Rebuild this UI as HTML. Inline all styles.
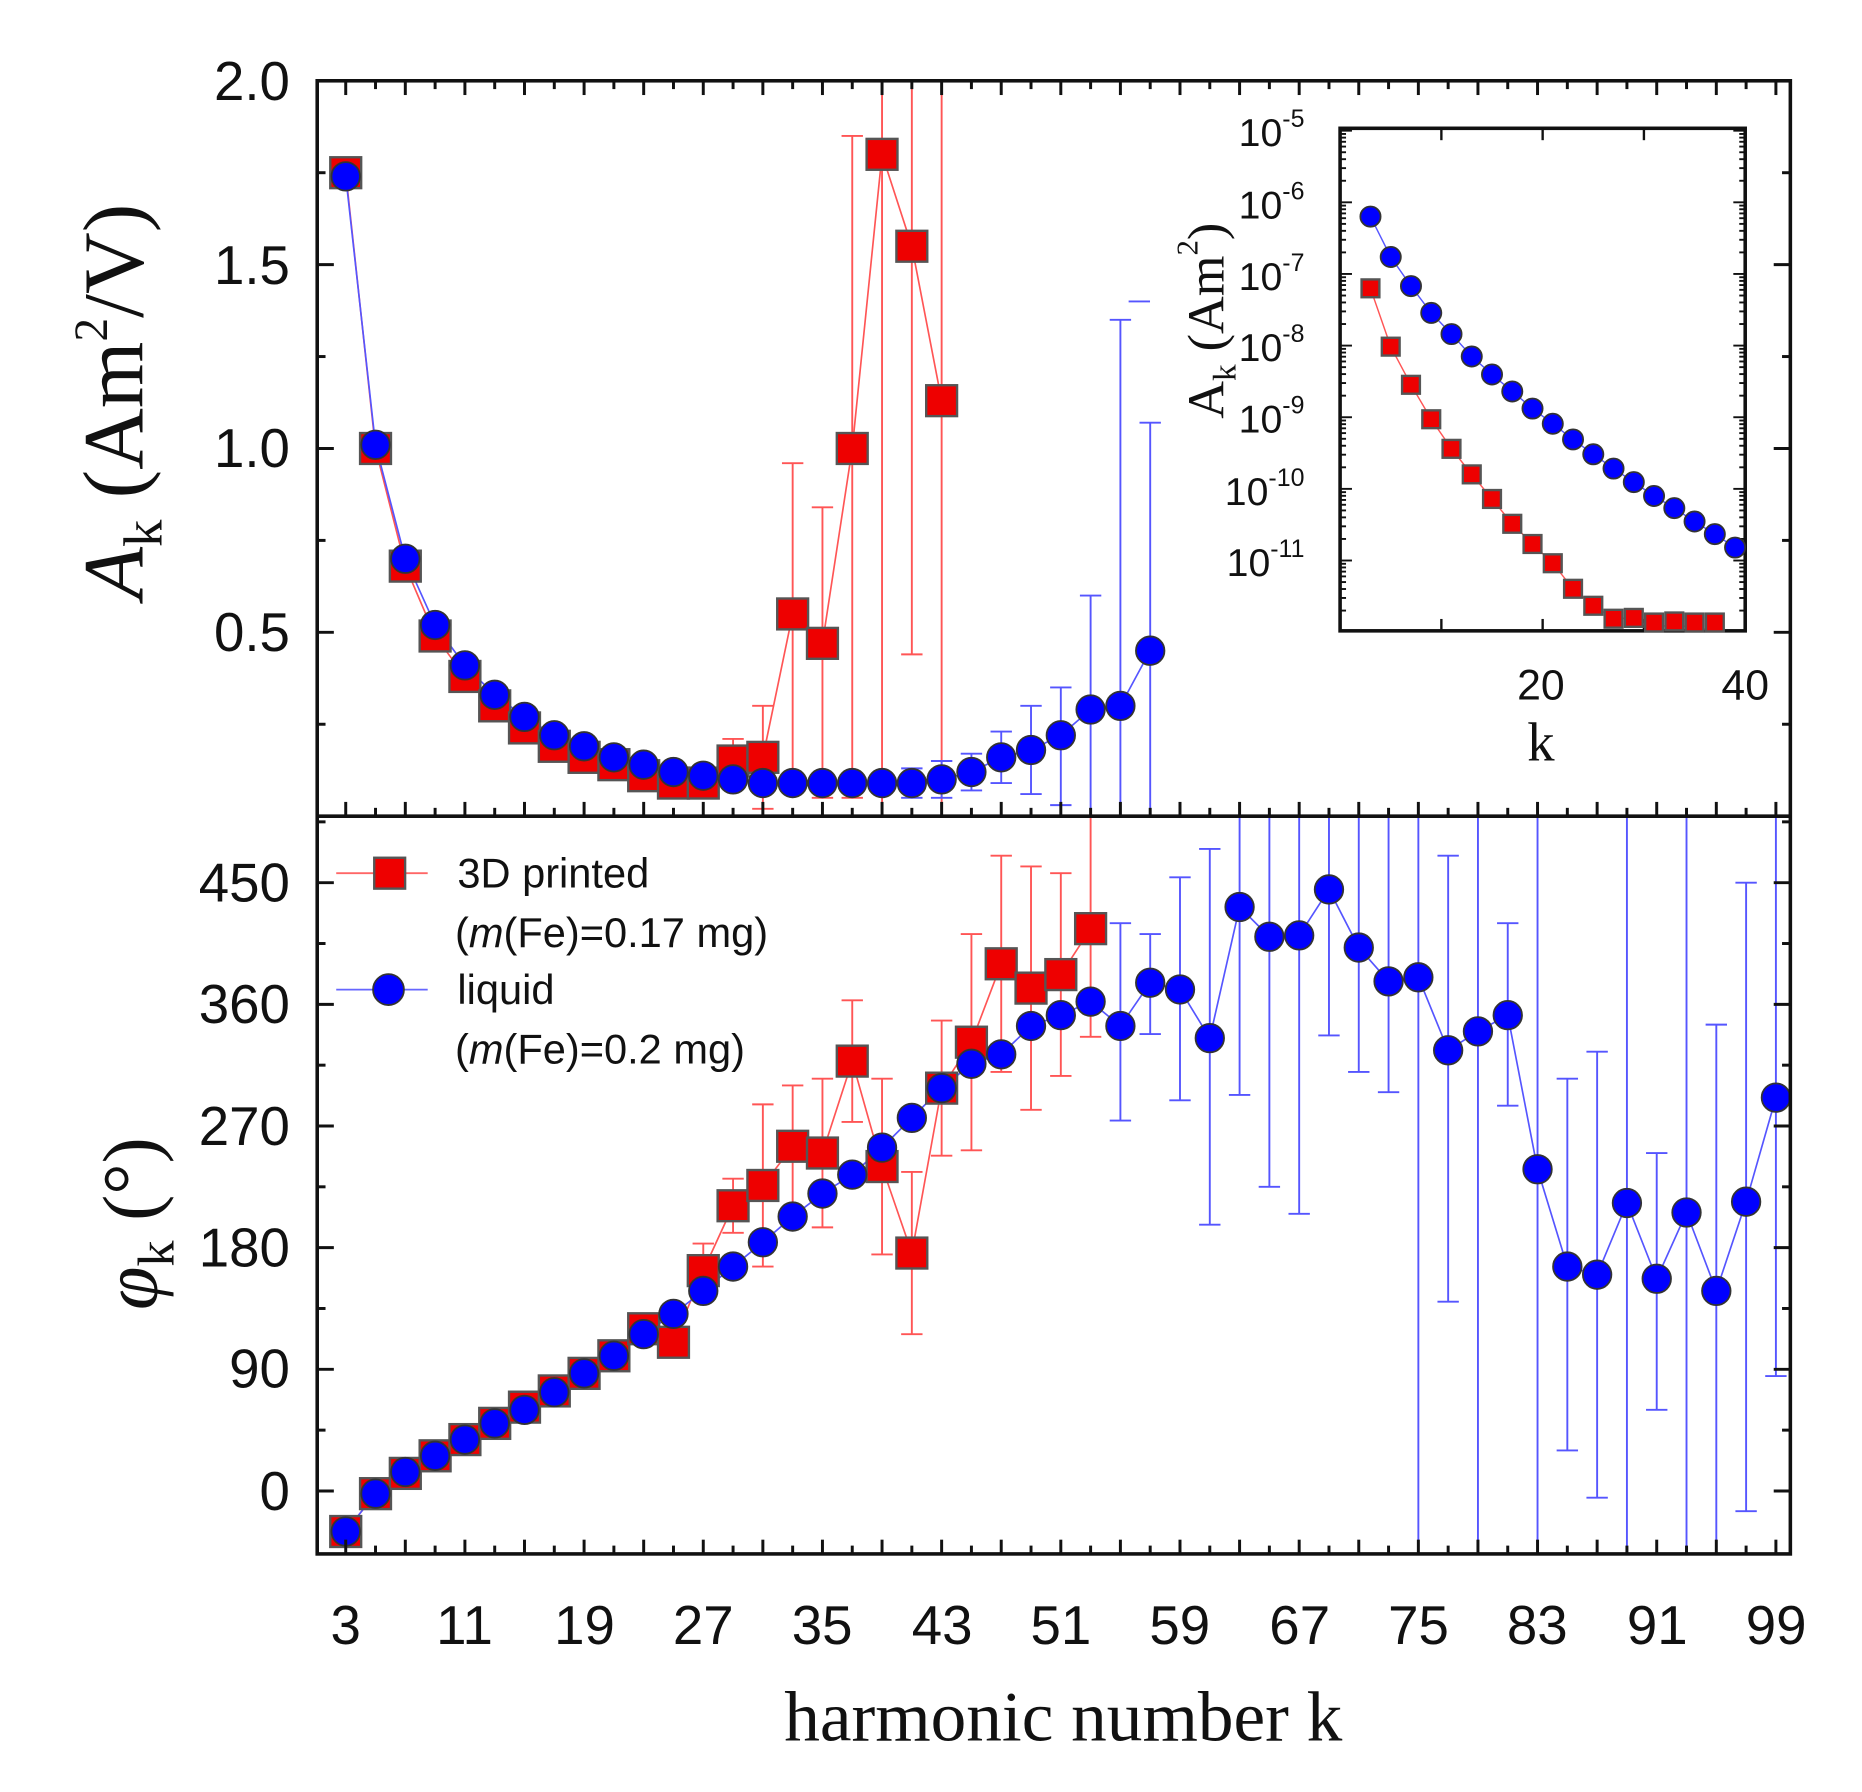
<!DOCTYPE html>
<html><head><meta charset="utf-8"><style>
html,body{margin:0;padding:0;background:#fff;}
svg{display:block;}
text{font-family:"Liberation Sans",sans-serif;fill:#111;}
.serif{font-family:"Liberation Serif",serif;}
</style></head><body>
<svg id="s" width="1862" height="1792" viewBox="0 0 1567.3 1508.4" xmlns="http://www.w3.org/2000/svg">
<rect width="1567.3" height="1508.4" fill="#fff"/>
<g id="data"></g>
<g id="axes" fill="none" stroke="#111" stroke-width="3">
<rect x="267" y="68" width="1240" height="1240"/>
<line x1="267" y1="687" x2="1507" y2="687"/>
</g>
<g id="ticks" stroke="#111" stroke-width="2.5"></g>
<g font-size="46" text-anchor="end">
<text x="244" y="84">2.0</text>
<text x="244" y="239">1.5</text>
<text x="244" y="393">1.0</text>
<text x="244" y="548">0.5</text>
<text x="244" y="759">450</text>
<text x="244" y="861">360</text>
<text x="244" y="964">270</text>
<text x="244" y="1066">180</text>
<text x="244" y="1168">90</text>
<text x="244" y="1271">0</text>
</g>
<g font-size="46" text-anchor="middle">
<text x="291" y="1384">3</text>
<text x="391" y="1384">11</text>
<text x="492" y="1384">19</text>
<text x="592" y="1384">27</text>
<text x="692" y="1384">35</text>
<text x="793" y="1384">43</text>
<text x="893" y="1384">51</text>
<text x="993" y="1384">59</text>
<text x="1094" y="1384">67</text>
<text x="1194" y="1384">75</text>
<text x="1294" y="1384">83</text>
<text x="1395" y="1384">91</text>
<text x="1495" y="1384">99</text>
</g>
<text class="serif" x="895" y="1465" font-size="60" text-anchor="middle">harmonic number k</text>
<g transform="translate(120,338) rotate(-90)">
<text class="serif" x="0" y="0" font-size="72" text-anchor="middle"><tspan font-style="italic">A</tspan><tspan font-size="46" dy="16">k</tspan><tspan dy="-16"> (Am</tspan><tspan font-size="40" dy="-30">2</tspan><tspan dy="30">/V)</tspan></text>
</g>
<g transform="translate(132,1030) rotate(-90)">
<text class="serif" x="0" y="0" font-size="66" text-anchor="middle"><tspan font-style="italic">φ</tspan><tspan font-size="44" dy="14">k</tspan><tspan dy="-14"> (°)</tspan></text>
</g>
<line x1="283" y1="735" x2="360" y2="735" stroke="#f66" stroke-width="1.5"/>
<rect x="315" y="722" width="26" height="26" fill="#e00" stroke="#555" stroke-width="2"/>
<text x="385" y="747" font-size="35">3D printed</text>
<text x="383" y="797" font-size="35">(<tspan font-style="italic">m</tspan>(Fe)=0.17 mg)</text>
<line x1="283" y1="833" x2="360" y2="833" stroke="#66f" stroke-width="1.5"/>
<circle cx="327" cy="833" r="13" fill="#00f" stroke="#333" stroke-width="1.5"/>
<text x="385" y="845" font-size="35">liquid</text>
<text x="383" y="895" font-size="35">(<tspan font-style="italic">m</tspan>(Fe)=0.2 mg)</text>
<rect x="1128" y="108" width="341" height="423" fill="none" stroke="#111" stroke-width="3"/>
<g id="inset"></g>
<g font-size="33" text-anchor="end">
<text x="1098" y="123">10<tspan font-size="21" dy="-16">-5</tspan></text>
<text x="1098" y="184">10<tspan font-size="21" dy="-16">-6</tspan></text>
<text x="1098" y="244">10<tspan font-size="21" dy="-16">-7</tspan></text>
<text x="1098" y="304">10<tspan font-size="21" dy="-16">-8</tspan></text>
<text x="1098" y="364">10<tspan font-size="21" dy="-16">-9</tspan></text>
<text x="1098" y="425">10<tspan font-size="21" dy="-16">-10</tspan></text>
<text x="1098" y="485">10<tspan font-size="21" dy="-16">-11</tspan></text>
</g>
<g font-size="36" text-anchor="middle">
<text x="1297" y="589">20</text>
<text x="1469" y="589">40</text>
</g>
<text class="serif" x="1297" y="640" font-size="46" text-anchor="middle">k</text>
<g transform="translate(1030,270) rotate(-90)">
<text class="serif" x="0" y="0" font-size="44" text-anchor="middle" fill="#333">A<tspan font-size="28" dy="10">k</tspan><tspan dy="-10"> (Am</tspan><tspan font-size="26" dy="-22">2</tspan><tspan dy="22">)</tspan></text>
</g>
</svg>
<script>
var NS="http://www.w3.org/2000/svg";
function el(p,t,a){var e=document.createElementNS(NS,t);for(var k in a)e.setAttribute(k,a[k]);p.appendChild(e);return e;}
var D=document.getElementById('data'),T=document.getElementById('ticks'),I=document.getElementById('inset');
function X(k){return 291+(k-3)*12.54;}
function YA(a){return 687-a*309.5;}
function YP(d){return 1255-d*1.1378;}
function clipT(y){return Math.max(68,Math.min(687,y));}
function clipB(y){return Math.max(687,Math.min(1308,y));}
for(var k=3;k<=99;k+=2){var x=X(k),L=((k-3)%4==0)?12:7;
 el(T,'line',{x1:x,y1:1308,x2:x,y2:1308-L});el(T,'line',{x1:x,y1:687,x2:x,y2:687-L});el(T,'line',{x1:x,y1:68,x2:x,y2:68+L});}
for(var a=0.25;a<2;a+=0.25){var y=YA(a),L=(Math.abs(a*2-Math.round(a*2))<0.01)?14:7;
 el(T,'line',{x1:267,y1:y,x2:267+L,y2:y});el(T,'line',{x1:1507,y1:y,x2:1507-L,y2:y});}
for(var d=-45;d<=495;d+=45){var y=YP(d);if(y>1306||y<690)continue;var L=(d%90==0)?14:7;
 el(T,'line',{x1:267,y1:y,x2:267+L,y2:y});el(T,'line',{x1:1507,y1:y,x2:1507-L,y2:y});}
function eb(x,y1,y2,c){el(D,'line',{x1:x,y1:y1,x2:x,y2:y2,stroke:c,'stroke-width':1.6});
 [y1,y2].forEach(function(y){if(y>69&&y<1307&&Math.abs(y-687)>2)el(D,'line',{x1:x-9,y1:y,x2:x+9,y2:y,stroke:c,'stroke-width':1.6});});}
function poly(pts,c){el(D,'polyline',{points:pts.map(function(p){return p[0]+','+p[1]}).join(' '),fill:'none',stroke:c,'stroke-width':1.4});}
function sq(x,y,s,p){el(p||D,'rect',{x:x-s/2,y:y-s/2,width:s,height:s,fill:'#e00',stroke:'#555','stroke-width':2});}
function ci(x,y,r,p){el(p||D,'circle',{cx:x,cy:y,r:r,fill:'#00f',stroke:'#333','stroke-width':1.5});}
var RC='#f55',BC='#55f';
var rA=[1.75,1.0,0.68,0.49,0.38,0.3,0.24,0.19,0.16,0.14,0.11,0.09,0.09,0.15,0.16,0.55,0.47,1.0,1.8,1.55,1.13];
var rAe={29:[0.21,0.08],31:[0.3,0.02],33:[0.96,0.1],35:[0.84,0.05],37:[1.85,0.05],39:[2.1,0],41:[2.1,0.44],43:[2.1,0]};
var bA=[1.74,1.01,0.7,0.52,0.41,0.33,0.27,0.22,0.19,0.16,0.14,0.12,0.11,0.1,0.09,0.09,0.09,0.09,0.09,0.09,0.1,0.12,0.16,0.18,0.22,0.29,0.3,0.45];
var bAe={41:[0.13,0.05],43:[0.15,0.05],45:[0.17,0.07],47:[0.23,0.09],49:[0.3,0.06],51:[0.35,0.03],53:[0.6,0],55:[1.35,0],57:[1.07,0]};
for(var k in rAe)eb(X(+k),clipT(YA(rAe[k][0])),clipT(YA(rAe[k][1])),RC);
for(var k in bAe)eb(X(+k),clipT(YA(bAe[k][0])),clipT(YA(bAe[k][1])),BC);
el(D,'line',{x1:950,y1:YA(1.4),x2:968,y2:YA(1.4),stroke:BC,'stroke-width':1.6});
poly(rA.map(function(v,i){return [X(3+2*i),YA(v)]}),RC);
poly(bA.map(function(v,i){return [X(3+2*i),YA(v)]}),BC);
rA.forEach(function(v,i){sq(X(3+2*i),YA(v),26)});
bA.forEach(function(v,i){ci(X(3+2*i),YA(v),12)});
var rP=[-30,-2,13,26,38,50,62,74,87,100,120,110,163,211,226,255,250,318,240,176,298,332,390,372,382,416];
var rPe={27:20,29:20,31:60,33:45,35:55,37:45,39:65,41:60,43:50,45:80,47:80,49:90,51:75};
var bP=[-30,-2,14,26,38,50,60,73,87,100,116,131,148,166,184,203,220,234,254,276,298,316,323,344,352,362,344,376,371,335,432,410,411,445,402,377,380,326,340,352,238,166,160,213,157,206,148,214,291];
var bPe={55:[420,274],57:[412,338],59:[454,289],61:[475,197],63:[600,293],65:[600,225],67:[600,205],69:[600,337],71:[600,310],73:[600,295],75:[600,-100],77:[470,140],79:[600,-100],81:[420,285],83:[600,-100],85:[305,30],87:[325,-5],89:[600,-100],91:[250,60],93:[600,-100],95:[345,-50],97:[450,-15],99:[600,85]};
for(var k in rPe){var v=rP[(k-3)/2];eb(X(+k),clipB(YP(v+rPe[k])),clipB(YP(v-rPe[k])),RC);}
eb(X(53),687,YP(336),RC);
for(var k in bPe)eb(X(+k),clipB(YP(bPe[k][0])),clipB(YP(bPe[k][1])),BC);
poly(rP.map(function(v,i){return [X(3+2*i),YP(v)]}),RC);
poly(bP.map(function(v,i){return [X(3+2*i),YP(v)]}),BC);
rP.forEach(function(v,i){sq(X(3+2*i),YP(v),26)});
bP.forEach(function(v,i){ci(X(3+2*i),YP(v),12)});
function IX(k){return 1128+k*8.525;}
for(var d=-5;d>=-12;d--){for(var m=1;m<10;m++){var y=110+(-5-d)*60.3-Math.log10(m)*60.3;if(y<109||y>530)continue;var L=m==1?10:5;
 el(I,'line',{x1:1128,y1:y,x2:1128+L,y2:y,stroke:'#111','stroke-width':1.6});el(I,'line',{x1:1469,y1:y,x2:1469-L,y2:y,stroke:'#111','stroke-width':1.6});}}
[10,20,30].forEach(function(k){var x=IX(k);el(I,'line',{x1:x,y1:531,x2:x,y2:521,stroke:'#111','stroke-width':2});el(I,'line',{x1:x,y1:108,x2:x,y2:118,stroke:'#111','stroke-width':2});});
var ri=[242.7,291.8,323.9,352.9,377.8,399.3,420,440.9,457.9,474.1,495.6,509.9,520.8,520.1,530.7,523.1,531.4,527.7];
var bi=[182.3,216.3,240.8,263.4,281.2,300.1,315.2,329.5,343.9,356.7,369.9,382.4,394.4,405.8,417.5,427.7,439,449.6,460.9];
el(I,'polyline',{points:ri.map(function(v,i){return IX(3+2*i)+','+v}).join(' '),fill:'none',stroke:RC,'stroke-width':1.2});
el(I,'polyline',{points:bi.map(function(v,i){return IX(3+2*i)+','+v}).join(' '),fill:'none',stroke:BC,'stroke-width':1.2});
ri.forEach(function(v,i){sq(IX(3+2*i),Math.min(v,524),15,I)});
bi.forEach(function(v,i){ci(IX(3+2*i),v,8.5,I)});
</script>
</body></html>
